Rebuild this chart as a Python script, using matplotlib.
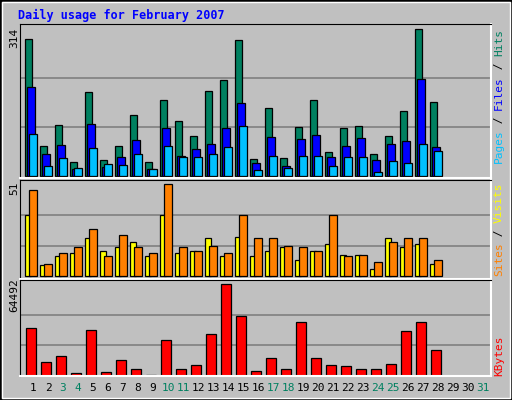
import matplotlib

matplotlib.use("Agg")

import matplotlib.pyplot as plt

days = list(range(1, 32))
weekend_days = [3, 4, 10, 11, 17, 18, 24, 25, 31]

hits = [293, 64, 109, 30, 179, 34, 64, 130, 30, 162, 117, 85, 182, 205,
        290, 36, 145, 38, 105, 162, 51, 103, 107, 47, 85, 139, 314, 158]
files = [190, 47, 66, 15, 111, 19, 41, 77, 15, 103, 43, 58, 68, 103,
         156, 28, 83, 21, 79, 88, 41, 64, 81, 34, 68, 75, 207, 62]
pages = [90, 21, 38, 17, 60, 26, 23, 47, 15, 64, 41, 41, 47, 62,
         107, 13, 43, 17, 43, 43, 21, 41, 41, 9, 32, 28, 68, 53]
sites = [34, 6, 11, 13, 21, 14, 16, 19, 11, 34, 13, 14, 21, 11,
         22, 11, 14, 16, 9, 14, 18, 12, 12, 4, 21, 16, 18, 7]
visits = [48, 7, 13, 16, 26, 11, 23, 16, 13, 51, 16, 14, 17, 13,
          34, 21, 21, 17, 16, 14, 34, 11, 12, 8, 19, 21, 21, 9]
kbytes = [33426, 9416, 13653, 1648, 32014, 2354, 10828, 4473, 700, 24952,
          4473, 7297, 29190, 64492, 41900, 3060, 12241, 4473, 37664, 12241,
          7297, 6591, 4473, 4473, 8004, 31308, 37664, 17890]

W, H = 512, 400
BG = "#c0c0c0"
MONO = "DejaVu Sans Mono"

fig = plt.figure(figsize=(W / 100, H / 100), dpi=100, facecolor=BG)


def panel(top, bottom, baseline, maxpix, vmax):
    # pixel-based placement: top/bottom are y pixels from the top of the image
    ax = fig.add_axes([20 / W, 1 - bottom / H, 471 / W, (bottom - top) / H])
    s = vmax / (baseline - maxpix)
    ax.set_ylim(-(bottom - baseline) * s, (baseline - top) * s)
    ax.set_xlim(20, 491)
    ax.set_facecolor(BG)
    ax.set_xticks([])
    ax.set_yticks([])
    for y in (vmax / 3, 2 * vmax / 3):
        ax.axhline(y, color="#808080", lw=1.2, zorder=0)
    for side in ("top", "left"):
        ax.spines[side].set_color("black")
    for side in ("bottom", "right"):
        ax.spines[side].set_color("white")
        ax.spines[side].set_linewidth(1.5)
    return ax


def slot(i):
    return 25 + 15 * i


bar_kw = dict(edgecolor="black", linewidth=0.9, align="edge")

ax1 = panel(24, 178, 176, 29, 314)
n = len(hits)
ax1.bar([slot(i) + 0.3 for i in range(n)], hits, width=7, color="#008060", **bar_kw)
ax1.bar([slot(i) + 1.7 for i in range(n)], files, width=8, color="#0000ff", **bar_kw)
ax1.bar([slot(i) + 3.7 for i in range(n)], pages, width=8, color="#00c0ff", **bar_kw)

ax2 = panel(180, 279, 276.3, 184.3, 51)
ax2.bar([slot(i) + 0.3 for i in range(n)], sites, width=5.5, color="#ffff00", **bar_kw)
ax2.bar([slot(i) + 4.3 for i in range(n)], visits, width=7.3, color="#ff8000", **bar_kw)

ax3 = panel(280, 376, 375.7, 284.3, 64492)
ax3.bar([slot(i) + 1.3 for i in range(n)], kbytes, width=10, color="#ff0000", **bar_kw)

# title and axis max labels
fig.text(18 / W, 1 - 15 / H, "Daily usage for February 2007", color="#0000ff",
         fontsize=8.5, fontweight="bold", family=MONO, va="center")
for label, ypix in (("314", 38), ("51", 188), ("64492", 295)):
    fig.text(14 / W, 1 - ypix / H, label, rotation=90, fontsize=8, family=MONO,
             ha="center", va="center")

CHAR_PX = 6.67  # width of one mono char at 8pt, 100 dpi


# right side legends, reading bottom to top
def side_legend(parts, ybottom):
    y = ybottom
    for text, color in parts:
        fig.text(499 / W, 1 - y / H, text, rotation=90, color=color, fontsize=8,
                 family=MONO, ha="center", va="bottom")
        y -= len(text) * CHAR_PX


side_legend([("Pages", "#00c0ff"), (" / ", "black"), ("Files", "#0000ff"),
             (" / ", "black"), ("Hits", "#008060")], 163)
side_legend([("Sites", "#ff8000"), (" / ", "black"), ("Visits", "#ffff00")], 276)
side_legend([("KBytes", "#ff0000")], 376)

for i, d in enumerate(days):
    color = "#008060" if d in weekend_days else "black"
    fig.text((slot(i) + 8) / W, 1 - 388 / H, str(d), color=color, fontsize=8,
             family=MONO, ha="center", va="center")

# outer frame
fig.patches.append(plt.Rectangle((0, 0), 1, 1, transform=fig.transFigure,
                                 fill=False, edgecolor="black", lw=2))
fig.patches.append(plt.Rectangle((2 / W, 2 / H), 1 - 4 / W, 1 - 4 / H,
                                 transform=fig.transFigure, fill=False,
                                 edgecolor="white", lw=1))

fig.savefig("out.png", dpi=100, facecolor=BG)
